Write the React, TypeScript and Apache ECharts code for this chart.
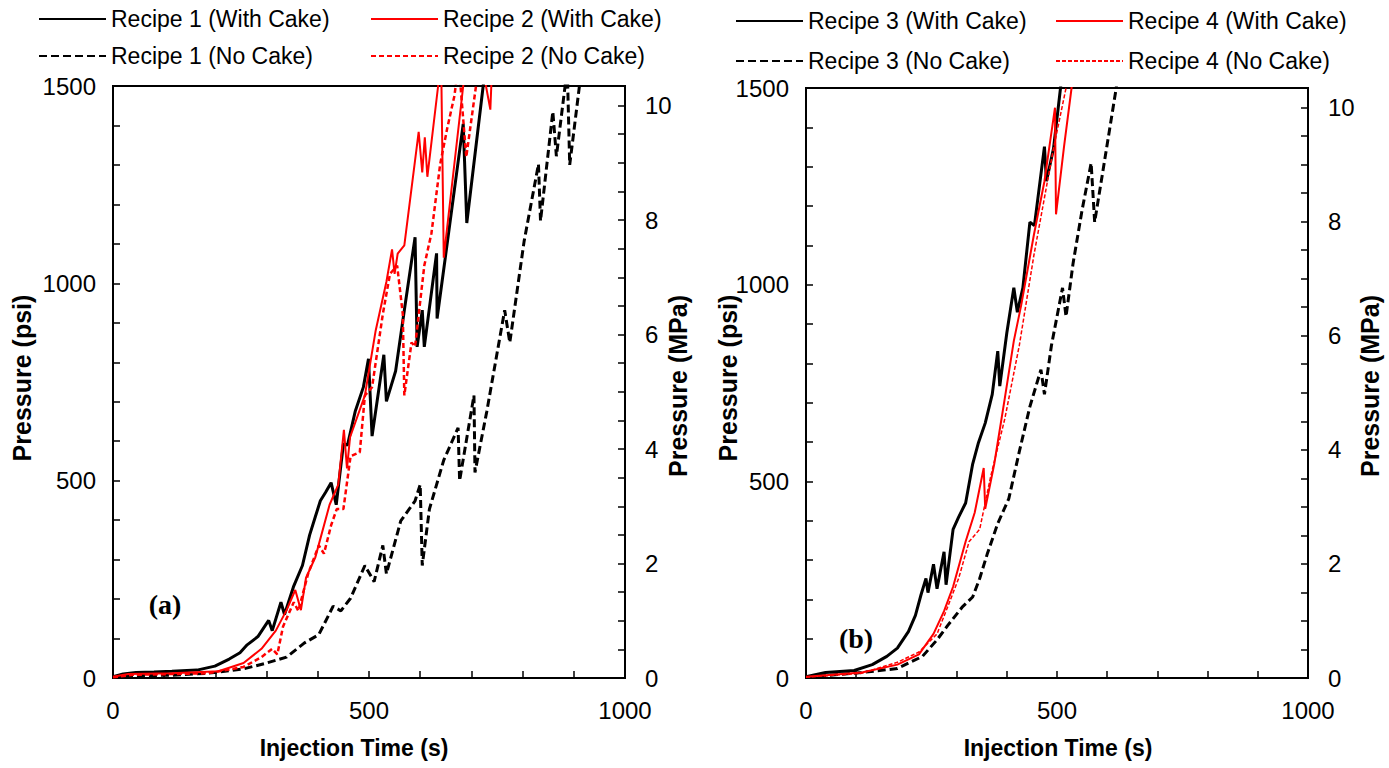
import React, { useEffect, useRef } from "react";
import * as echarts from "echarts";

// ---- Data: [injection time (s), pressure (psi)] ----
const recipe1WithCake: number[][] = [
  [0, 3], [20, 10], [45, 14], [80, 15], [115, 17], [164, 20], [199, 30], [227, 48], [248, 64],
  [262, 84], [283, 105], [304, 146], [311, 120], [328, 192], [335, 161], [353, 233], [370, 285],
  [384, 362], [395, 408], [405, 449], [415, 470], [426, 495], [436, 439], [450, 593], [458, 590],
  [473, 675], [489, 737], [499, 809], [506, 613], [529, 819], [534, 701], [552, 778], [569, 932],
  [590, 1117], [594, 839], [604, 932], [608, 839], [632, 1076], [633, 911], [649, 1065],
  [684, 1404], [691, 1153], [723, 1500], [740, 1700],
];
const recipe2WithCake: number[][] = [
  [0, 3], [30, 10], [115, 12], [206, 17], [255, 38], [290, 74], [318, 120], [339, 172], [356, 223],
  [367, 172], [377, 254], [395, 305], [423, 439], [440, 490], [451, 629], [457, 531], [463, 610],
  [492, 716], [513, 880], [534, 1004], [545, 1086], [550, 1024], [556, 1075], [569, 1096],
  [597, 1384], [604, 1281], [609, 1370], [614, 1270], [635, 1500], [640, 1650], [646, 1065],
  [684, 1500], [700, 1700], [737, 1440], [745, 1700],
];
const recipe1NoCake: number[][] = [
  [0, 2], [40, 6], [115, 7], [185, 12], [255, 23], [300, 38], [339, 53], [374, 89], [402, 110],
  [430, 182], [445, 170], [464, 202], [492, 285], [510, 244], [527, 336], [534, 264], [562, 398],
  [590, 449], [600, 490], [604, 285], [618, 428], [632, 490], [646, 552], [674, 634], [677, 500],
  [705, 716], [707, 521], [730, 675], [744, 778], [765, 932], [775, 850], [803, 1107],
  [831, 1302], [835, 1158], [859, 1435], [866, 1322], [883, 1500], [887, 1560], [892, 1300],
  [911, 1500], [920, 1650],
];
const recipe2NoCake: number[][] = [
  [0, 2], [40, 8], [185, 12], [255, 28], [290, 53], [311, 74], [321, 60], [332, 130], [353, 192],
  [362, 170], [381, 264], [402, 336], [412, 315], [426, 387], [437, 428], [450, 428], [464, 562],
  [482, 572], [492, 716], [506, 737], [527, 922], [541, 1024], [555, 1045], [566, 922],
  [569, 716], [583, 850], [590, 840], [608, 1045], [622, 1127], [639, 1302], [653, 1394],
  [667, 1476], [675, 1560], [690, 1320], [709, 1500], [715, 1600],
];

const recipe3WithCake: number[][] = [
  [0, 3], [39, 14], [96, 19], [132, 34], [161, 55], [182, 76], [204, 118], [218, 159], [229, 211],
  [239, 253], [243, 217], [254, 289], [261, 227], [275, 321], [279, 237], [293, 378], [304, 409],
  [318, 445], [332, 544], [343, 596], [357, 648], [371, 721], [382, 831], [386, 742], [400, 877],
  [414, 992], [421, 930], [432, 992], [446, 1159], [455, 1150], [475, 1351], [479, 1263],
  [493, 1346], [507, 1500], [515, 1600],
];
const recipe4WithCake: number[][] = [
  [0, 3], [111, 14], [182, 34], [225, 60], [254, 112], [275, 170], [293, 232], [318, 347],
  [336, 420], [354, 534], [357, 430], [375, 544], [396, 711], [414, 857], [429, 950], [454, 1127],
  [475, 1263], [496, 1450], [498, 1179], [514, 1351], [529, 1500], [540, 1650],
];
const recipe3NoCake: number[][] = [
  [0, 2], [111, 14], [182, 24], [232, 55], [261, 97], [282, 133], [311, 180], [332, 206],
  [346, 253], [361, 315], [382, 393], [404, 456], [425, 576], [446, 690], [468, 784], [475, 721],
  [489, 846], [511, 992], [518, 919], [532, 1054], [550, 1190], [568, 1309], [575, 1159],
  [596, 1325], [618, 1500], [625, 1600],
];
const recipe4NoCake: number[][] = [
  [0, 2], [111, 12], [182, 40], [225, 66], [261, 112], [282, 180], [304, 253], [325, 347],
  [346, 378], [368, 513], [396, 659], [425, 846], [454, 1075], [475, 1221], [493, 1346],
  [518, 1500], [525, 1600],
];

const legendLeftA = ["Recipe 1 (With Cake)", "Recipe 1 (No Cake)"];
const legendLeftB = ["Recipe 2 (With Cake)", "Recipe 2 (No Cake)"];
const legendRightA = ["Recipe 3 (With Cake)", "Recipe 3 (No Cake)"];
const legendRightB = ["Recipe 4 (With Cake)", "Recipe 4 (No Cake)"];

const PSI_MAX = 1500;
const PSI_PER_MPA = 145.038;
const MPA_MAX = PSI_MAX / PSI_PER_MPA;

const SANS = "Liberation Sans, Arial, sans-serif";
const SERIF = "Liberation Serif, Times New Roman, serif";
const TICK_FONT = 24;

function xAxisFor(gridIndex: number) {
  return {
    type: "value", gridIndex, min: 0, max: 1000, interval: 100,
    axisLine: { show: true, lineStyle: { color: "#000", width: 2 } },
    axisTick: { show: true, inside: true, length: 7, lineStyle: { color: "#000", width: 1.5 } },
    axisLabel: {
      margin: 20, fontSize: TICK_FONT, color: "#000", fontFamily: SANS,
      formatter: (v: number) => (v % 500 === 0 ? String(v) : ""),
    },
    splitLine: { show: false },
  };
}
function psiAxisFor(gridIndex: number) {
  return {
    type: "value", gridIndex, position: "left", min: 0, max: PSI_MAX, interval: 100,
    axisLine: { show: true, lineStyle: { color: "#000", width: 2 } },
    axisTick: { show: true, inside: true, length: 7, lineStyle: { color: "#000", width: 1.5 } },
    axisLabel: {
      margin: 17, fontSize: TICK_FONT, color: "#000", fontFamily: SANS,
      formatter: (v: number) => (v % 500 === 0 ? String(v) : ""),
    },
    splitLine: { show: false },
  };
}
function mpaAxisFor(gridIndex: number) {
  return {
    type: "value", gridIndex, position: "right", min: 0, max: MPA_MAX, interval: 0.5,
    axisLine: { show: true, lineStyle: { color: "#000", width: 2 } },
    axisTick: { show: true, inside: true, length: 7, lineStyle: { color: "#000", width: 1.5 } },
    axisLabel: {
      margin: 20, fontSize: TICK_FONT, color: "#000", fontFamily: SANS,
      formatter: (v: number) => (Math.abs(v % 2) < 1e-9 ? String(v) : ""),
    },
    splitLine: { show: false },
  };
}

function lineSeries(name: string, data: number[][], xi: number, yi: number, color: string, width: number, type: any) {
  return {
    name, type: "line", data, xAxisIndex: xi, yAxisIndex: yi, symbol: "none", clip: true,
    lineStyle: { color, width, type }, itemStyle: { color }, z: 3,
  };
}

function legendAt(data: string[], left: number, top: number, gap: number) {
  return {
    data, left, top, orient: "vertical", itemWidth: 67, itemHeight: 14, itemGap: gap,
    itemStyle: { opacity: 0 },
    textStyle: { fontSize: 23, lineHeight: 24, color: "#000", fontFamily: SANS },
    selectedMode: false,
  };
}

function title(text: string, x: number, y: number, vertical: boolean, size: number) {
  return {
    type: "text", x, y, rotation: vertical ? Math.PI / 2 : 0,
    style: { text, fontSize: size, fontWeight: "bold", fontFamily: SANS, fill: "#000", align: "center", verticalAlign: "middle" },
  };
}

export default function App() {
  const ref = useRef<HTMLDivElement>(null);
  useEffect(() => {
    if (!ref.current) return;
    const chart = echarts.init(ref.current, null, { renderer: "svg" });
    chart.setOption({
      animation: false,
      backgroundColor: "#fff",
      grid: [
        { left: 113, top: 86, width: 512, height: 592, show: true, borderColor: "#000", borderWidth: 2, containLabel: false },
        { left: 806, top: 88, width: 502, height: 590, show: true, borderColor: "#000", borderWidth: 2, containLabel: false },
      ],
      xAxis: [xAxisFor(0), xAxisFor(1)],
      yAxis: [psiAxisFor(0), mpaAxisFor(0), psiAxisFor(1), mpaAxisFor(1)],
      legend: [
        legendAt(legendLeftA, 33, 2, 13),
        legendAt(legendLeftB, 365, 2, 13),
        legendAt(legendRightA, 730, 4, 16),
        legendAt(legendRightB, 1050, 4, 16),
      ],
      series: [
        lineSeries("Recipe 1 (With Cake)", recipe1WithCake, 0, 0, "#000", 3, "solid"),
        lineSeries("Recipe 1 (No Cake)", recipe1NoCake, 0, 0, "#000", 3, [8, 4]),
        lineSeries("Recipe 2 (With Cake)", recipe2WithCake, 0, 0, "#ff0000", 2, "solid"),
        lineSeries("Recipe 2 (No Cake)", recipe2NoCake, 0, 0, "#ff0000", 2.5, [5, 3]),
        lineSeries("Recipe 3 (With Cake)", recipe3WithCake, 1, 2, "#000", 3, "solid"),
        lineSeries("Recipe 3 (No Cake)", recipe3NoCake, 1, 2, "#000", 3, [8, 4]),
        lineSeries("Recipe 4 (With Cake)", recipe4WithCake, 1, 2, "#ff0000", 2, "solid"),
        lineSeries("Recipe 4 (No Cake)", recipe4NoCake, 1, 2, "#ff0000", 1.5, [4, 2]),
      ],
      graphic: [
        title("Pressure (psi)", 22, 378, true, 25),
        title("Pressure (MPa)", 678, 386, true, 25),
        title("Injection Time (s)", 354, 748, false, 23),
        title("Pressure (psi)", 728, 378, true, 25),
        title("Pressure (MPa)", 1370, 386, true, 25),
        title("Injection Time (s)", 1058, 748, false, 23),
        { type: "text", x: 165, y: 604, style: { text: "(a)", fontSize: 28, fontWeight: "bold", fontFamily: SERIF, fill: "#000", align: "center", verticalAlign: "middle" } },
        { type: "text", x: 856, y: 638, style: { text: "(b)", fontSize: 28, fontWeight: "bold", fontFamily: SERIF, fill: "#000", align: "center", verticalAlign: "middle" } },
      ],
    });
    return () => chart.dispose();
  }, []);
  return <div ref={ref} style={{ width: 1389, height: 768, position: "absolute", left: 0, top: 0 }} />;
}
